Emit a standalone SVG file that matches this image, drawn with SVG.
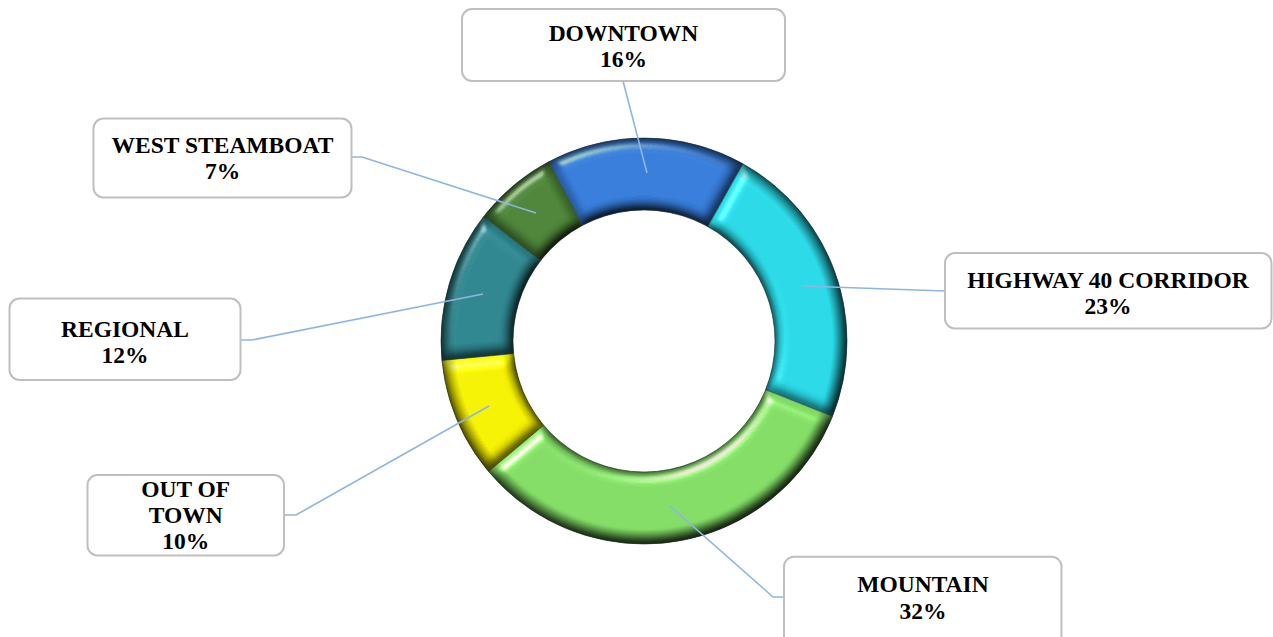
<svg xmlns="http://www.w3.org/2000/svg" width="1273" height="637" viewBox="0 0 1273 637">
<style>
.box{fill:#fff;stroke:#bfbfbf;stroke-width:2}
.lbl{font-family:"Liberation Serif","Times New Roman",serif;font-weight:bold;font-size:23.5px;fill:#000;text-anchor:middle}
.lead{fill:none;stroke:#8db5e4;stroke-width:1.6}
.seg{filter:url(#bevel)}
.edge{fill:none;stroke:#1e2a2a;stroke-opacity:0.6;stroke-width:1}
</style>
<defs>
<filter id="bevel" x="-10%" y="-10%" width="120%" height="120%" color-interpolation-filters="sRGB">
  <feGaussianBlur in="SourceAlpha" stdDeviation="6" result="blur"/>
  <feDiffuseLighting in="blur" surfaceScale="6" diffuseConstant="1.15" lighting-color="#fff" result="diff">
    <feDistantLight azimuth="240" elevation="60"/>
  </feDiffuseLighting>
  <feComposite in="diff" in2="SourceAlpha" operator="in" result="diffIn"/>
  <feBlend in="SourceGraphic" in2="diffIn" mode="multiply" result="shaded"/>
  <feSpecularLighting in="blur" surfaceScale="6" specularConstant="0.6" specularExponent="40" lighting-color="#fff" result="spec">
    <feDistantLight azimuth="240" elevation="45"/>
  </feSpecularLighting>
  <feComposite in="spec" in2="SourceAlpha" operator="in" result="specIn"/>
  <feComposite in="specIn" in2="shaded" operator="arithmetic" k1="0" k2="1" k3="1" k4="0"/>
</filter>
<radialGradient id="tube" gradientUnits="userSpaceOnUse" cx="644" cy="341" r="203">
  <stop offset="0.645" stop-color="#000" stop-opacity="0.5"/>
  <stop offset="0.67" stop-color="#000" stop-opacity="0.12"/>
  <stop offset="0.7" stop-color="#000" stop-opacity="0"/>
  <stop offset="0.93" stop-color="#000" stop-opacity="0"/>
  <stop offset="0.975" stop-color="#000" stop-opacity="0.3"/>
  <stop offset="1" stop-color="#000" stop-opacity="0.6"/>
</radialGradient>
</defs>
<rect width="1273" height="637" fill="#fff"/>

<g id="ring">
  <path id="seg-downtown" class="seg" fill="#3479d6" d="M548.7,161.8 A203,203 0 0 1 743.0,163.8 L707.9,226.6 A131,131 0 0 0 582.5,225.3 Z"/>
  <path id="seg-highway" class="seg" fill="#27d6e3" d="M743.0,163.8 A203,203 0 0 1 832.5,416.4 L765.6,389.7 A131,131 0 0 0 707.9,226.6 Z"/>
  <path id="seg-mountain" class="seg" fill="#7fd962" d="M832.5,416.4 A203,203 0 0 1 488.5,471.5 L543.7,425.2 A131,131 0 0 0 765.6,389.7 Z"/>
  <path id="seg-out" class="seg" fill="#f2ee00" d="M488.5,471.5 A203,203 0 0 1 441.9,360.4 L513.6,353.6 A131,131 0 0 0 543.7,425.2 Z"/>
  <path id="seg-regional" class="seg" fill="#2c838c" d="M441.9,360.4 A203,203 0 0 1 483.6,216.6 L540.5,260.7 A131,131 0 0 0 513.6,353.6 Z"/>
  <path id="seg-west" class="seg" fill="#4a8236" d="M483.6,216.6 A203,203 0 0 1 548.7,161.8 L582.5,225.3 A131,131 0 0 0 540.5,260.7 Z"/>
  <path fill="url(#tube)" fill-rule="evenodd" d="M441,341 A203,203 0 1 1 847,341 A203,203 0 1 1 441,341 Z M513,341 A131,131 0 1 0 775,341 A131,131 0 1 0 513,341 Z"/>
  <circle class="edge" cx="644" cy="341" r="203"/>
  <circle class="edge" cx="644" cy="341" r="131"/>
  <path class="edge" d="M548.7,161.8 L582.5,225.3 M743.0,163.8 L707.9,226.6 M832.5,416.4 L765.6,389.7 M488.5,471.5 L543.7,425.2 M441.9,360.4 L513.6,353.6 M483.6,216.6 L540.5,260.7"/>
</g>

<g id="connectors">
  <polyline class="lead" points="623,81 647,173"/>
  <polyline class="lead" points="352,157 362,157 536,213"/>
  <polyline class="lead" points="945,291 802,286"/>
  <polyline class="lead" points="241,340 252,340 483,294"/>
  <polyline class="lead" points="284,515 296,515 489,406"/>
  <polyline class="lead" points="670,506 773,597 784,597"/>
</g>

<g id="label-downtown">
  <rect class="box" x="462" y="9" width="323" height="72" rx="10"/>
  <text class="lbl" x="623.5" y="40.5">DOWNTOWN</text>
  <text class="lbl" x="623.5" y="66.5">16%</text>
</g>
<g id="label-west-steamboat">
  <rect class="box" x="93.5" y="118.5" width="258" height="79" rx="10"/>
  <text class="lbl" x="222.5" y="153.3">WEST STEAMBOAT</text>
  <text class="lbl" x="222.5" y="179.3">7%</text>
</g>
<g id="label-highway">
  <rect class="box" x="945" y="253" width="326.5" height="75.5" rx="10"/>
  <text class="lbl" x="1108" y="288.3">HIGHWAY 40 CORRIDOR</text>
  <text class="lbl" x="1108" y="314">23%</text>
</g>
<g id="label-regional">
  <rect class="box" x="9.5" y="298.5" width="231" height="81.5" rx="10"/>
  <text class="lbl" x="125" y="336.7">REGIONAL</text>
  <text class="lbl" x="125" y="362.7">12%</text>
</g>
<g id="label-out-of-town">
  <rect class="box" x="87.5" y="475" width="196.5" height="80.5" rx="10"/>
  <text class="lbl" x="185.7" y="496.7">OUT OF</text>
  <text class="lbl" x="185.7" y="522.7">TOWN</text>
  <text class="lbl" x="185.7" y="549">10%</text>
</g>
<g id="label-mountain">
  <rect class="box" x="784" y="556.7" width="277.5" height="90" rx="10"/>
  <text class="lbl" x="923" y="592.3">MOUNTAIN</text>
  <text class="lbl" x="923" y="619">32%</text>
</g>
</svg>
